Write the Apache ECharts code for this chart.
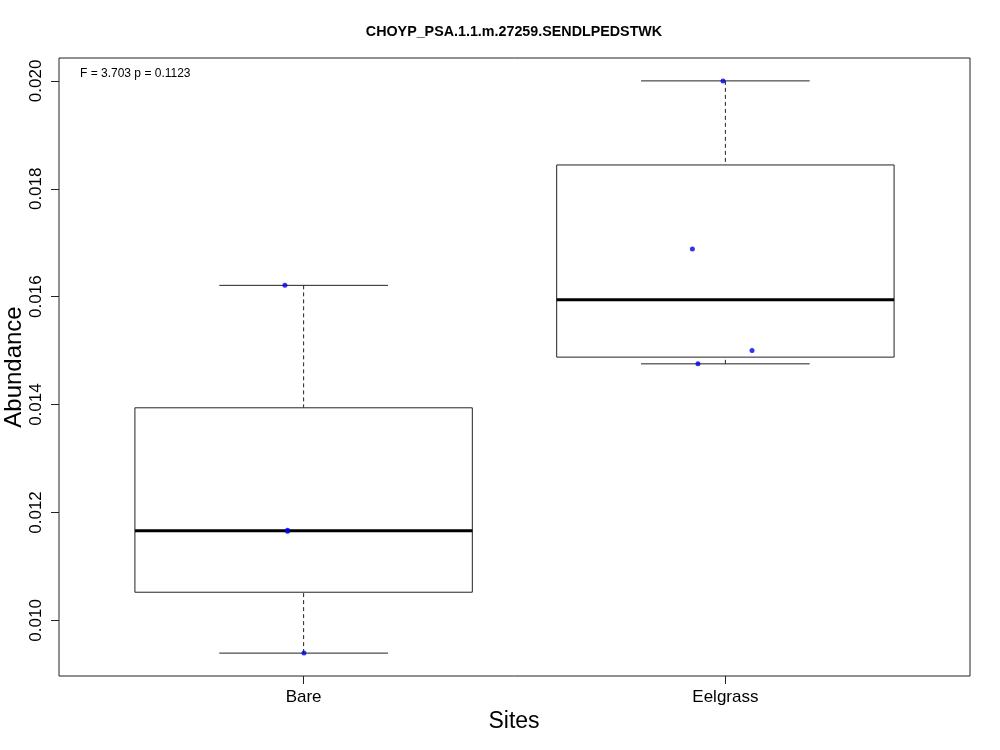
<!DOCTYPE html>
<html>
<head>
<meta charset="utf-8">
<script src="https://cdn.jsdelivr.net/npm/echarts@6/dist/echarts.min.js"></script>
<style>html,body{margin:0;padding:0;background:#fff}#c{width:1000px;height:750px}</style>
</head>
<body>
<div id="c"></div>
<script>
const categories = ['Bare', 'Eelgrass'];
const bareValues = [0.016210, 0.011650, 0.011670, 0.009393];
const bareJitter = [0.9557, 0.9619, 0.9619, 1.0008];
const eelgrassValues = [0.020000, 0.016883, 0.015004, 0.014755];
const eelgrassJitter = [1.9944, 1.9218, 2.0632, 1.9350];
const yTicks = [0.010, 0.012, 0.014, 0.016, 0.018, 0.020];
const titleText = 'CHOYP_PSA.1.1.m.27259.SENDLPEDSTWK';
const statText = 'F = 3.703 p = 0.1123';

function fivenum(arr) {
  const s = arr.slice().sort((a, b) => a - b);
  const n = s.length;
  const n4 = Math.floor((n + 3) / 2) / 2;
  const d = [1, n4, (n + 1) / 2, n + 1 - n4, n];
  return d.map(p => 0.5 * (s[Math.floor(p) - 1] + s[Math.ceil(p) - 1]));
}
const groups = [bareValues, eelgrassValues];
const boxData = groups.map((g, i) => [i + 1].concat(fivenum(g)));
const allVals = bareValues.concat(eelgrassValues);
const vmin = Math.min(...allVals), vmax = Math.max(...allVals);
const pad = (vmax - vmin) * 0.04;
const pts = [];
bareValues.forEach((v, i) => pts.push([bareJitter[i], v]));
eelgrassValues.forEach((v, i) => pts.push([eelgrassJitter[i], v]));

const chart = echarts.init(document.getElementById('c'), null, {renderer: 'canvas'});
const font = 'Liberation Sans, Arial, Helvetica, sans-serif';
chart.setOption({
  animation: false,
  backgroundColor: '#fff',
  graphic: [
    {type: 'text', x: 514, y: 32, style: {text: titleText, font: 'bold 14.3px ' + font, fill: '#000', textAlign: 'center', textVerticalAlign: 'middle'}},
    {type: 'text', left: 80, top: 68, style: {text: statText, font: '12px ' + font, fill: '#000'}},
    {type: 'text', x: 514, y: 722, style: {text: 'Sites', font: '23px ' + font, fill: '#000', textAlign: 'center', textVerticalAlign: 'middle'}},
    {type: 'text', x: 14, y: 367, rotation: Math.PI / 2, style: {text: 'Abundance', font: '24px ' + font, fill: '#000', textAlign: 'center', textVerticalAlign: 'middle'}}
  ],
  grid: {left: 59, top: 58, width: 911, height: 618, show: true, borderColor: '#222', borderWidth: 1, backgroundColor: 'transparent'},
  xAxis: {
    type: 'value', min: 0.42, max: 2.58,
    splitLine: {show: false},
    axisLine: {show: false},
    axisTick: {show: true, length: 8, lineStyle: {color: '#222'}, customValues: [1, 2]},
    axisLabel: {
      customValues: [1, 2], margin: 13,
      formatter: v => categories[Math.round(v) - 1] || '',
      fontFamily: font, fontSize: 17, color: '#000'
    }
  },
  yAxis: {
    type: 'value', min: vmin - pad, max: vmax + pad,
    splitLine: {show: false},
    axisLine: {show: false},
    axisTick: {show: true, length: 8, lineStyle: {color: '#222'}, customValues: yTicks},
    axisLabel: {
      customValues: yTicks, rotate: 90, margin: 14,
      formatter: v => v.toFixed(3),
      fontFamily: font, fontSize: 17, color: '#000'
    }
  },
  series: [
    {
      type: 'custom',
      data: boxData,
      encode: {x: 0, y: [1, 2, 3, 4, 5]},
      renderItem: function (params, api) {
        const x = api.value(0);
        const mn = api.value(1), q1 = api.value(2), md = api.value(3), q3 = api.value(4), mx = api.value(5);
        const p = (a, b) => api.coord([a, b]);
        const L = p(x - 0.4, q3), R = p(x + 0.4, q1);
        const cl = p(x - 0.2, mn), cr = p(x + 0.2, mn);
        const tl = p(x - 0.2, mx), tr = p(x + 0.2, mx);
        const c = p(x, 0);
        const yq1 = p(x, q1)[1], yq3 = p(x, q3)[1], ymd = p(x, md)[1];
        const stroke = {stroke: '#222', lineWidth: 1, fill: null};
        return {
          type: 'group',
          children: [
            {type: 'line', shape: {x1: c[0], y1: p(x, mx)[1], x2: c[0], y2: yq3}, style: {stroke: '#222', lineWidth: 1, lineDash: [4, 3]}},
            {type: 'line', shape: {x1: c[0], y1: p(x, mn)[1], x2: c[0], y2: yq1}, style: {stroke: '#222', lineWidth: 1, lineDash: [4, 3]}},
            {type: 'line', shape: {x1: tl[0], y1: tl[1], x2: tr[0], y2: tr[1]}, style: stroke},
            {type: 'line', shape: {x1: cl[0], y1: cl[1], x2: cr[0], y2: cr[1]}, style: stroke},
            {type: 'rect', shape: {x: L[0], y: yq3, width: R[0] - L[0], height: yq1 - yq3}, style: {stroke: '#222', lineWidth: 1, fill: '#fff'}},
            {type: 'line', shape: {x1: L[0], y1: ymd, x2: R[0], y2: ymd}, style: {stroke: '#000', lineWidth: 3}}
          ]
        };
      },
      z: 2
    },
    {
      type: 'scatter',
      data: pts,
      symbol: 'circle',
      symbolSize: 5,
      itemStyle: {color: '#0000ee'},
      z: 3
    }
  ]
});
</script>
</body>
</html>
